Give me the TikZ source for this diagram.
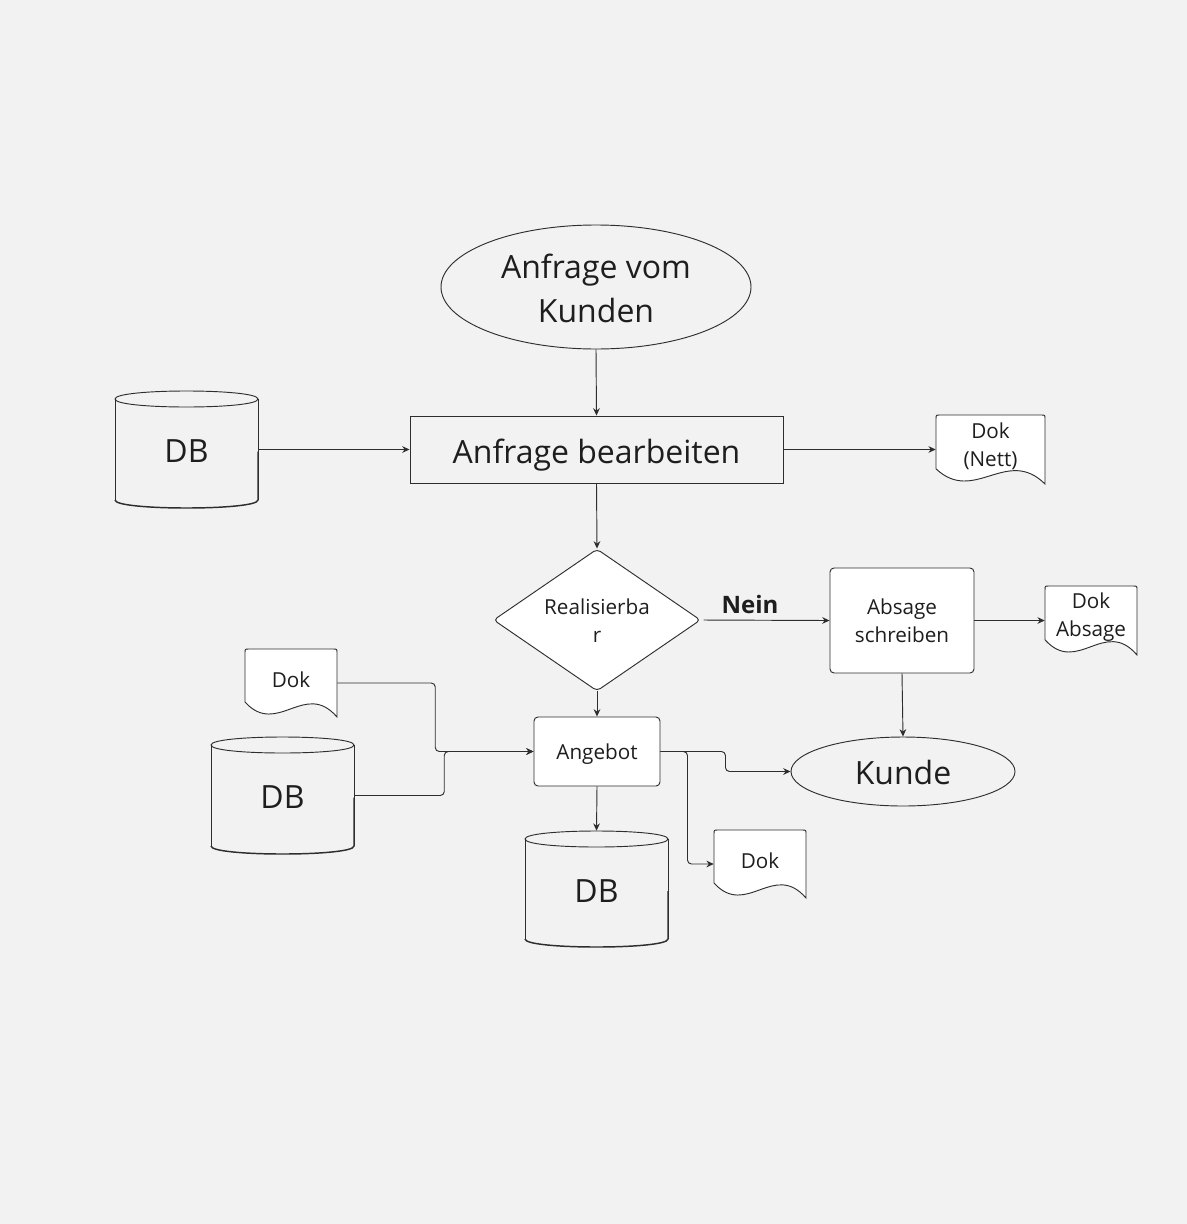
\documentclass[tikz,border=0pt]{standalone}
\usepackage{fontspec}
\setmainfont{Open Sans}
\usetikzlibrary{shapes.geometric,arrows.meta,calc}
\definecolor{bg}{HTML}{F2F2F2}
\definecolor{ln}{HTML}{2E2E2E}
\definecolor{tx}{HTML}{1E1E1E}
\newcommand\bigf{\fontsize{24}{33}\selectfont}
\newcommand\smallf{\fontsize{15.5}{21}\selectfont}
\tikzset{
  shapeline/.style={draw=ln, line width=0.7pt},
  arr/.style={draw=ln, line width=0.7pt, -{Stealth[length=5.5pt,width=5pt]}, rounded corners=3pt},
  ghostbox/.style={rectangle, draw=none, inner sep=0pt},
  bigtext/.style={text=tx, font=\bigf, align=center, inner sep=0pt},
  smalltext/.style={text=tx, font=\smallf, align=center, inner sep=0pt},
}
\newcommand\mydoc[6]{%
  \node[ghostbox, minimum width={#4*0.75pt}, minimum height={#5*0.75pt}] (#1) at (#2,#3) {};
  \draw[shapeline, fill=white]
    ({#2-#4/2},{#3-#5/2+0.78*#5}) -- ({#2-#4/2},{#3-#5/2+4})
    .. controls ({#2-#4/2},{#3-#5/2}) .. ({#2-#4/2+4},{#3-#5/2})
    -- ({#2+#4/2-4},{#3-#5/2})
    .. controls ({#2+#4/2},{#3-#5/2}) .. ({#2+#4/2},{#3-#5/2+4})
    -- ({#2+#4/2},{#3+#5/2})
    .. controls ({#2+#4/2-0.35*#4},{#3-#5/2+0.45*#5}) and ({#2-#4/2+0.35*#4},{#3-#5/2+1.3*#5}) .. cycle;
  \node[smalltext] (#1-text) at (#2,{#3-3.5}) {#6};
}
\newcommand\mycyl[6]{%
  \node[ghostbox, minimum width={#4*0.75pt}, minimum height={#5*0.75pt}] (#1) at (#2,#3) {};
  \draw[shapeline]
    ({#2-#4/2},{#3-#5/2+8}) -- ({#2-#4/2},{#3+#5/2-8});
  \draw[shapeline]
    ({#2+#4/2},{#3+#5/2-8}) -- ({#2+#4/2},{#3-#5/2+8});
  \draw[shapeline, line width=1.1pt]
    ({#2-#4/2},{#3+#5/2-8})
    .. controls ({#2-#4/2},{#3+#5/2+2.67}) and ({#2+#4/2},{#3+#5/2+2.67}) .. ({#2+#4/2},{#3+#5/2-8})
    -- ({#2+#4/2},{#3+2});
  \draw[shapeline]
    ({#2-#4/2},{#3-#5/2+8})
    .. controls ({#2-#4/2},{#3-#5/2-2.67}) and ({#2+#4/2},{#3-#5/2-2.67}) .. ({#2+#4/2},{#3-#5/2+8})
    .. controls ({#2+#4/2},{#3-#5/2+18.67}) and ({#2-#4/2},{#3-#5/2+18.67}) .. cycle;
  \node[bigtext] (#1-text) at (#2,{#3+2}) {#6};
}
\begin{document}
\begin{tikzpicture}[x=0.75pt, y=-0.75pt]
  \fill[bg] (0,0) rectangle (1187,1224);
  \useasboundingbox (0,0) rectangle (1187,1224);

  % main flow
  \node[ellipse, shapeline, inner sep=0pt, minimum width={310*0.75pt}, minimum height={124*0.75pt}] (q) at (596,287) {};
  \node[bigtext] (qt) at (596,288) {Anfrage vom\\Kunden};

  \node[rectangle, shapeline, inner sep=0pt, minimum width={373*0.75pt}, minimum height={67*0.75pt}] (ab) at (596.5,449.5) {};
  \node[bigtext] (abt) at (596.5,455) {Anfrage bearbeiten};

  \mycyl{db1}{186.5}{449.5}{143}{117}{DB}
  \mydoc{dn}{990.5}{449.5}{109}{69}{Dok\\(Nett)}

  \node[diamond, shapeline, fill=white, inner sep=0pt, aspect=1.46, rounded corners=3pt, minimum width={207*0.75pt}, minimum height={142*0.75pt}] (real) at (597,620) {};
  \node[smalltext] (realt) at (597,621) {Realisierba\\r};

  \node[text=tx, font=\fontsize{18}{21}\selectfont\bfseries, inner sep=0pt] (nein) at (750,604) {Nein};

  \node[rectangle, shapeline, fill=white, rounded corners=3pt, inner sep=0pt, minimum width={144*0.75pt}, minimum height={105*0.75pt}] (abs) at (902,620.5) {};
  \node[smalltext] (abst) at (902,621) {Absage\\schreiben};

  \mydoc{da}{1091}{620.5}{92}{69}{Dok\\Absage}

  \node[ellipse, shapeline, inner sep=0pt, minimum width={224*0.75pt}, minimum height={69*0.75pt}] (kunde) at (903,771.5) {};
  \node[bigtext] (kundet) at (903,772) {Kunde};

  \node[rectangle, shapeline, fill=white, rounded corners=3pt, inner sep=0pt, minimum width={126*0.75pt}, minimum height={69*0.75pt}] (ang) at (597,751.5) {};
  \node[smalltext] (angt) at (597,754) {Angebot};

  \mydoc{dl}{291}{683}{92}{68}{Dok}
  \mycyl{dbl}{282.5}{795.5}{143}{117}{DB}
  \mycyl{dbb}{596.5}{889}{143}{116}{DB}
  \mydoc{dbd}{760}{864}{92}{68}{Dok}

  % connectors
  \draw[arr] (q.south) -- (ab.north);
  \draw[arr] (db1.east) -- (ab.west);
  \draw[arr] (ab.east) -- (dn.west);
  \draw[arr] (ab.south) -- (real.north);
  \draw[arr, shorten <=2pt] (real.east) -- (abs.west);
  \draw[arr] (abs.east) -- (da.west);
  \draw[arr] (abs.south) -- (kunde.north);
  \draw[arr] (real.south) -- (ang.north);
  \draw[arr] (dl.east) -- ++(98,0) |- (ang.west);
  \draw[arr] (dbl.east) -- ++(90,0) |- (ang.west);
  \draw[arr] (ang.east) -- ++(65,0) |- (kunde.west);
  \draw[arr] (ang.east) -- ++(27,0) |- (dbd.west);
  \draw[arr] (ang.south) -- (dbb.north);
\end{tikzpicture}
\end{document}
